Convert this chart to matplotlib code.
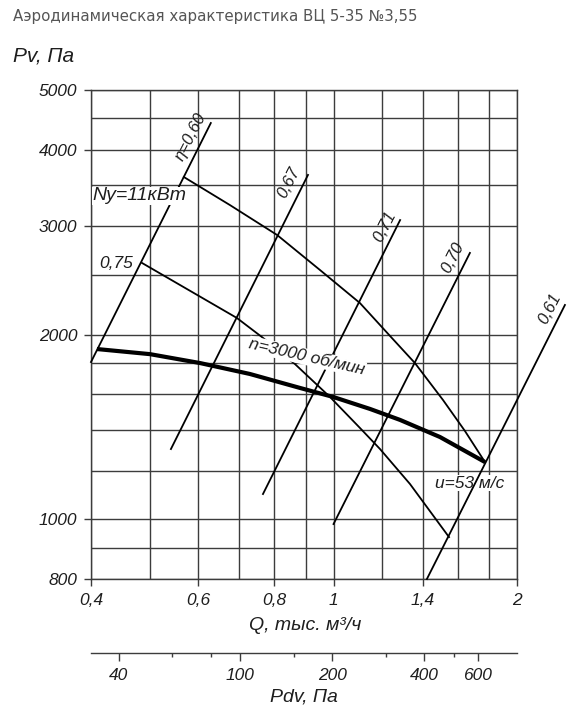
import matplotlib
matplotlib.use("Agg")
import matplotlib.pyplot as plt
from matplotlib.ticker import NullFormatter, FixedLocator

plt.rcParams['font.family'] = ['Liberation Sans', 'DejaVu Sans']

# ---- data ----
# main characteristic n=3000 rpm
q_main = [0.409, 0.500, 0.604, 0.729, 0.881, 1.000, 1.148, 1.286, 1.495, 1.772]
p_main = [1894, 1858, 1797, 1725, 1637, 1582, 1513, 1452, 1362, 1240]

# power curves
q_n11 = [0.568, 0.676, 0.808, 0.950, 1.105, 1.238, 1.360, 1.512, 1.643, 1.772]
p_n11 = [3609, 3249, 2904, 2547, 2250, 1989, 1797, 1565, 1393, 1240]
q_n75 = [0.485, 0.581, 0.694, 0.763, 0.864, 0.987, 1.105, 1.192, 1.335, 1.547]
p_n75 = [2615, 2357, 2128, 1981, 1791, 1582, 1409, 1302, 1142, 936]

# efficiency lines: (q_bottom, p_bottom, q_top, p_top)
eta_names = ['η=0,60', '0,67', '0,71', '0,70', '0,61']
eta_q1 = [0.400, 0.541, 0.766, 1.000, 1.423]
eta_p1 = [1804, 1302, 1100, 983, 800]
eta_q2 = [0.629, 0.908, 1.286, 1.674, 2.397]
eta_p2 = [4418, 3637, 3071, 2715, 2234]
# label centres for eta lines
eta_lq = [0.584, 0.845, 1.215, 1.570, 2.266]
eta_lp = [4194, 3529, 3002, 2664, 2200]

x_ticks = [0.4, 0.6, 0.8, 1, 1.4, 2]
x_labels = ['0,4', '0,6', '0,8', '1', '1,4', '2']
x_minor = [0.5, 0.7, 0.9, 1.2, 1.6, 1.8]
y_ticks = [800, 1000, 2000, 3000, 4000, 5000]
y_minor = [900, 1200, 1400, 1600, 1800, 2500, 3500, 4500]

pd_ticks = [40, 100, 200, 400, 600]
pd_minor = [60, 80, 150, 300, 500]

W, H = 587, 721
fig = plt.figure(figsize=(W / 100, H / 100), dpi=100)

ax = fig.add_axes([91 / W, 1 - 579 / H, 426 / W, 489 / H])
ax.set_xscale('log')
ax.set_yscale('log')
ax.set_xlim(0.4, 2)
ax.set_ylim(800, 5000)

gcol = '#3c3c3c'
tcol = '#1e1e1e'
ax.xaxis.set_major_locator(FixedLocator(x_ticks))
ax.xaxis.set_minor_locator(FixedLocator(x_minor))
ax.yaxis.set_major_locator(FixedLocator(y_ticks))
ax.yaxis.set_minor_locator(FixedLocator(y_minor))
ax.set_xticklabels(x_labels)
ax.set_yticklabels([str(v) for v in y_ticks])
ax.xaxis.set_minor_formatter(NullFormatter())
ax.yaxis.set_minor_formatter(NullFormatter())
ax.grid(True, which='both', color=gcol, lw=1.0, zorder=0)
ax.set_axisbelow(True)
for s in ax.spines.values():
    s.set_color(gcol)
    s.set_linewidth(1.0)
ax.tick_params(which='major', length=5, width=1.0, color=gcol, pad=5,
               labelsize=12.5, labelcolor=tcol)
ax.tick_params(which='minor', length=0)
for lab in ax.get_xticklabels() + ax.get_yticklabels():
    lab.set_style('italic')

# curves
ax.plot(q_main, p_main, color='black', lw=3.0, zorder=3, solid_capstyle='butt')
ax.plot(q_n11, p_n11, color='black', lw=1.3, zorder=3)
ax.plot(q_n75, p_n75, color='black', lw=1.3, zorder=3)
for i in range(len(eta_names)):
    ax.plot([eta_q1[i], eta_q2[i]], [eta_p1[i], eta_p2[i]], color='black',
            lw=1.3, zorder=3, clip_on=False)
    ax.text(eta_lq[i], eta_lp[i], eta_names[i], rotation=63, rotation_mode='anchor',
            ha='center', va='center', fontsize=12, style='italic', color=tcol,
            zorder=4)

bg = dict(facecolor='white', edgecolor='none', pad=0.5)
ax.text(0.402, 3361, 'Ny=11кВт', ha='left', va='center', fontsize=14,
        style='italic', color=tcol, bbox=bg, zorder=5)
ax.text(0.440, 2605, '0,75', ha='center', va='center', fontsize=12.5,
        style='italic', color=tcol, bbox=bg, zorder=5)
ax.text(0.905, 1838, 'n=3000 об/мин', ha='center', va='center', fontsize=12.5,
        rotation=-13, rotation_mode='anchor', style='italic', color=tcol,
        bbox=bg, zorder=5)
ax.text(1.674, 1146, 'u=53 м/с', ha='center', va='center', fontsize=12.5,
        style='italic', color=tcol, bbox=bg, zorder=2)

# Pdv scale
ax2 = fig.add_axes([91 / W, 1 - 653 / H, 426 / W, 0.0001])
ax2.set_xscale('log')
ax2.set_xlim(32.5, 806)
ax2.set_yticks([])
for k in ['left', 'right', 'top']:
    ax2.spines[k].set_visible(False)
ax2.spines['bottom'].set_color(gcol)
ax2.spines['bottom'].set_linewidth(1.0)
ax2.xaxis.set_major_locator(FixedLocator(pd_ticks))
ax2.xaxis.set_minor_locator(FixedLocator(pd_minor))
ax2.set_xticklabels([str(v) for v in pd_ticks])
ax2.xaxis.set_minor_formatter(NullFormatter())
ax2.tick_params(which='major', length=6, width=1.0, color=gcol, pad=5,
                labelsize=12.5, labelcolor=tcol)
ax2.tick_params(which='minor', length=3, width=1.0, color=gcol)
for lab in ax2.get_xticklabels():
    lab.set_style('italic')

# texts
fig.text(13 / W, 1 - 16 / H, 'Аэродинамическая характеристика ВЦ 5-35 №3,55',
         fontsize=10.8, color='#555555', family=['DejaVu Sans'], va='center', ha='left')
fig.text(13 / W, 1 - 56 / H, 'Pv, Па', fontsize=15, style='italic', color=tcol,
         va='center', ha='left')
fig.text(305 / W, 1 - 625 / H, 'Q, тыс. м³/ч', fontsize=14, style='italic',
         color=tcol, va='center', ha='center')
fig.text(304 / W, 1 - 697 / H, 'Pdv, Па', fontsize=14, style='italic',
         color=tcol, va='center', ha='center')

fig.savefig('out.png', dpi=100)
